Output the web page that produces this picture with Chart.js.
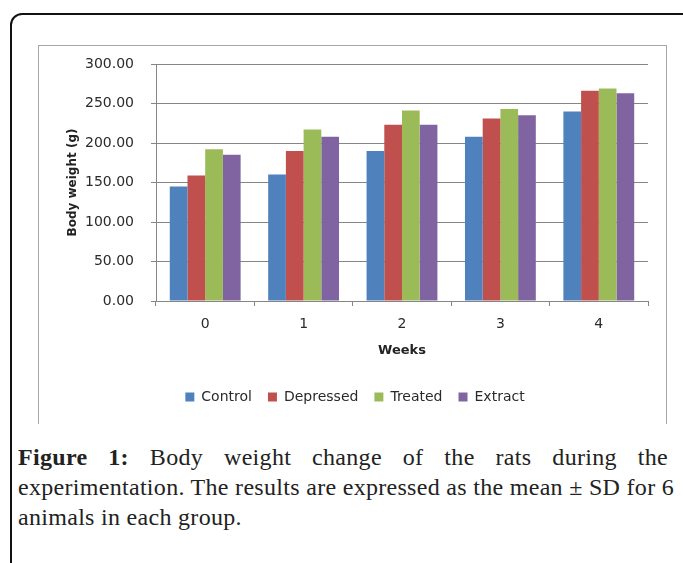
<!DOCTYPE html>
<html>
<head>
<meta charset="utf-8">
<script src="https://cdn.jsdelivr.net/npm/chart.js@4/dist/chart.umd.min.js"></script>
<style>
  body { margin: 0; background: #fff; width: 683px; height: 563px; overflow: hidden; position: relative; }
  #frame { position: absolute; left: 10px; top: 13px; width: 700px; height: 620px;
           border: 2px solid #111; border-radius: 12px; }
  #box { position: absolute; left: 38px; top: 45px; width: 627px; height: 378px;
         border: 1px solid #a6a6a6; border-bottom: none; }
  #caption { position: absolute; left: 18px; top: 442px; width: 650px;
             font-family: "Liberation Serif", "Times New Roman", serif; font-size: 24px;
             letter-spacing: 0.3px; line-height: 30px; color: #222; }
  #caption .j { text-align: justify; text-align-last: justify; white-space: nowrap; }
</style>
</head>
<body>
<div id="frame"></div>
<div id="box"><canvas id="weightChart" width="627" height="378"></canvas></div>
<div id="caption">
  <div class="j"><b>Figure 1:</b> Body weight change of the rats during the</div>
  <div class="j">experimentation. The results are expressed as the mean ± SD for 6</div>
  <div>animals in each group.</div>
</div>
<script>
// ---------------------------------------------------------------------------
// Data (body weight in g, per week)
// ---------------------------------------------------------------------------
const weeks = ["0", "1", "2", "3", "4"];
const controlWeights   = [145, 160, 190, 208, 240];
const depressedWeights = [159, 190, 223, 231, 266];
const treatedWeights   = [192, 217, 241, 243, 269];
const extractWeights   = [185, 208, 223, 235, 263];
const yTicks = [0, 50, 100, 150, 200, 250, 300];

const axisGray = "#868686";
const textColor = "#2a2a2a";

function makeSeries(label, data, color) {
  return {
    label,
    data,
    backgroundColor: color,
    borderWidth: 0,
    barPercentage: 1.0,
    categoryPercentage: 0.72,
  };
}

const ctx = document.getElementById("weightChart").getContext("2d");

new Chart(ctx, {
  type: "bar",
  data: {
    labels: weeks,
    datasets: [
      makeSeries("Control", controlWeights, "#4F81BD"),
      makeSeries("Depressed", depressedWeights, "#C0504D"),
      makeSeries("Treated", treatedWeights, "#9BBB59"),
      makeSeries("Extract", extractWeights, "#8064A2"),
    ],
  },
  options: {
    responsive: false,
    animation: false,
    layout: { padding: { left: 23, right: 18, top: 18, bottom: 10 } },
    plugins: {
      tooltip: { enabled: false },
      legend: {
        position: "bottom",
        labels: {
          boxWidth: 9,
          boxHeight: 9,
          padding: 16,
          color: textColor,
          font: { family: "DejaVu Sans", size: 14 },
        },
      },
    },
    scales: {
      x: {
        grid: {
          drawOnChartArea: false,
          drawTicks: true,
          tickLength: 5,
          color: axisGray,
        },
        border: { color: axisGray },
        ticks: {
          color: textColor,
          padding: 10,
          font: { family: "DejaVu Sans", size: 14 },
        },
        title: {
          display: true,
          text: "Weeks",
          color: "#222",
          padding: { top: 6, bottom: 16 },
          font: { family: "DejaVu Sans", size: 13, weight: "bold" },
        },
        afterFit: (scale) => { scale.height = 73; },
      },
      y: {
        min: 0,
        max: 300,
        afterBuildTicks: (scale) => { scale.ticks = yTicks.map(v => ({ value: v })); },
        grid: {
          color: axisGray,
          tickLength: 5,
        },
        border: { color: axisGray },
        ticks: {
          color: textColor,
          padding: 17,
          font: { family: "DejaVu Sans", size: 14 },
          callback: (v) => Number(v).toFixed(2),
        },
        title: {
          display: true,
          text: "Body weight (g)",
          color: "#222",
          padding: { top: 4, bottom: 0 },
          font: { family: "DejaVu Sans", size: 12, weight: "bold" },
        },
        afterFit: (scale) => {
          scale.width = 94;
          scale.paddingTop = 7;
          scale.paddingBottom = 7;
        },
      },
    },
  },
});
</script>
</body>
</html>
